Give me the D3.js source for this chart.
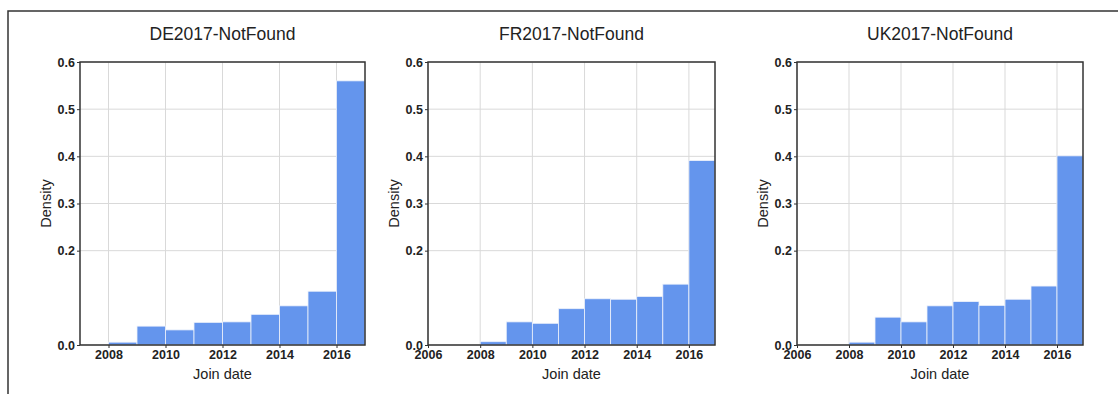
<!DOCTYPE html>
<html>
<head>
<meta charset="utf-8">
<script src="https://d3js.org/d3.v7.min.js"></script>
<style>
  body { margin: 0; background: #fff; }
  svg { display: block; }
  .tick text { font-family: "Liberation Sans", Arial, sans-serif; font-weight: bold; font-size: 12.5px; fill: #222; }
  .lbl { font-family: "Liberation Sans", Arial, sans-serif; fill: #222; }
</style>
</head>
<body>
<svg id="chart" width="1118" height="394"></svg>
<script>
// histogram bins (left edge, 1 year wide)
const binStarts = [2008, 2009, 2010, 2011, 2012, 2013, 2014, 2015, 2016];
const binWidth = 1;

const titles = ['DE2017-NotFound', 'FR2017-NotFound', 'UK2017-NotFound'];

// density per bin
const deValues = [0.006, 0.040, 0.032, 0.048, 0.049, 0.065, 0.083, 0.114, 0.560];
const frValues = [0.007, 0.049, 0.046, 0.077, 0.098, 0.097, 0.103, 0.129, 0.391];
const ukValues = [0.006, 0.059, 0.049, 0.083, 0.092, 0.084, 0.097, 0.125, 0.401];

const xStarts = [2007, 2006, 2006];
const xEnd = 2017;
const xTicksDE = [2008, 2010, 2012, 2014, 2016];
const xTicksOther = [2006, 2008, 2010, 2012, 2014, 2016];
const yTicks = [0.0, 0.2, 0.3, 0.4, 0.5, 0.6];

const series = [deValues, frValues, ukValues];
const xTickSets = [xTicksDE, xTicksOther, xTicksOther];

const svg = d3.select('#chart');

// outer frame of the figure
svg.append('path')
  .attr('d', 'M8,394 L8,11 L1118,11')
  .attr('fill', 'none')
  .attr('stroke', '#333')
  .attr('stroke-width', 1.5);

const panels = [
  {left: 80, right: 365},
  {left: 428, right: 715},
  {left: 797, right: 1083}
];
const plotTop = 62, plotBottom = 345;

panels.forEach(function(p, i) {
  let x = d3.scaleLinear().domain([xStarts[i], xEnd]).range([p.left, p.right]),
      y = d3.scaleLinear().domain([0, 0.6]).range([plotBottom, plotTop]),
      g = svg.append('g');

  // grid
  g.append('g').selectAll('line')
    .data(xTickSets[i])
    .enter().append('line')
    .attr('x1', d => x(d)).attr('x2', d => x(d))
    .attr('y1', plotTop).attr('y2', plotBottom)
    .attr('stroke', '#d9d9d9').attr('stroke-width', 1);
  g.append('g').selectAll('line')
    .data(yTicks)
    .enter().append('line')
    .attr('x1', p.left).attr('x2', p.right)
    .attr('y1', d => y(d)).attr('y2', d => y(d))
    .attr('stroke', '#d9d9d9').attr('stroke-width', 1);

  // bars
  g.append('g').selectAll('rect')
    .data(binStarts.map((b, k) => ({b: b, v: series[i][k]})))
    .enter().append('rect')
    .attr('x', d => x(d.b))
    .attr('width', d => x(d.b + binWidth) - x(d.b))
    .attr('y', d => y(d.v))
    .attr('height', d => y(0) - y(d.v))
    .attr('fill', '#6495ed')
    .attr('stroke', '#eef2fb')
    .attr('stroke-width', 0.8);

  // axes
  g.append('g')
    .attr('transform', 'translate(0,' + plotBottom + ')')
    .call(d3.axisBottom(x).tickValues(xTickSets[i]).tickFormat(d3.format('d')).tickSize(3).tickPadding(2))
    .call(a => a.select('.domain').remove());
  g.append('g')
    .attr('transform', 'translate(' + p.left + ',0)')
    .call(d3.axisLeft(y).tickValues(yTicks).tickFormat(d3.format('.1f')).tickSize(3).tickPadding(2))
    .call(a => a.select('.domain').remove());
  g.selectAll('.tick line').attr('stroke', '#333');

  // frame of the plot
  g.append('rect')
    .attr('x', p.left).attr('y', plotTop)
    .attr('width', p.right - p.left).attr('height', plotBottom - plotTop)
    .attr('fill', 'none')
    .attr('stroke', '#333')
    .attr('stroke-width', 1.5);

  // labels
  g.append('text').attr('class', 'lbl')
    .attr('x', (p.left + p.right) / 2).attr('y', 40)
    .attr('text-anchor', 'middle')
    .style('font-size', '17.5px')
    .text(titles[i]);
  g.append('text').attr('class', 'lbl')
    .attr('x', (p.left + p.right) / 2).attr('y', 379)
    .attr('text-anchor', 'middle')
    .style('font-size', '14.5px')
    .text('Join date');
  g.append('text').attr('class', 'lbl')
    .attr('transform', 'translate(' + (p.left - 29) + ',' + ((plotTop + plotBottom) / 2) + ') rotate(-90)')
    .attr('text-anchor', 'middle')
    .style('font-size', '14.5px')
    .text('Density');
});
</script>
</body>
</html>
